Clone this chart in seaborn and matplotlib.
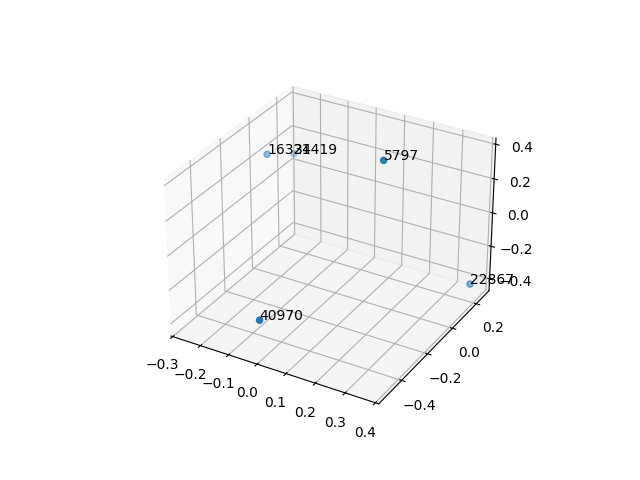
import matplotlib
matplotlib.use('Agg')
import matplotlib.pyplot as plt
import seaborn as sns

# word ids and their 3d coordinates
labels = ['40970', '16324', '31419', '5797', '22867']
xs = [0.0018, -0.2907, -0.2897, 0.1782, 0.386]
ys = [-0.55, 0.093, 0.29, -0.0298, 0.2017]
zs = [-0.227, 0.1677, 0.0489, 0.4173, -0.366]

color = sns.color_palette('tab10')[0]

fig = plt.figure(figsize=(6.4, 4.8), dpi=100)
ax = fig.add_subplot(projection='3d')
ax.scatter(xs, ys, zs, color=color)
for x, y, z, label in zip(xs, ys, zs, labels):
    ax.text(x, y, z, label)

ax.set_xlim(-0.306, 0.411)
ax.set_ylim(-0.57, 0.31)
ax.set_zlim(-0.4725, 0.4355)

fig.savefig('out.png')
